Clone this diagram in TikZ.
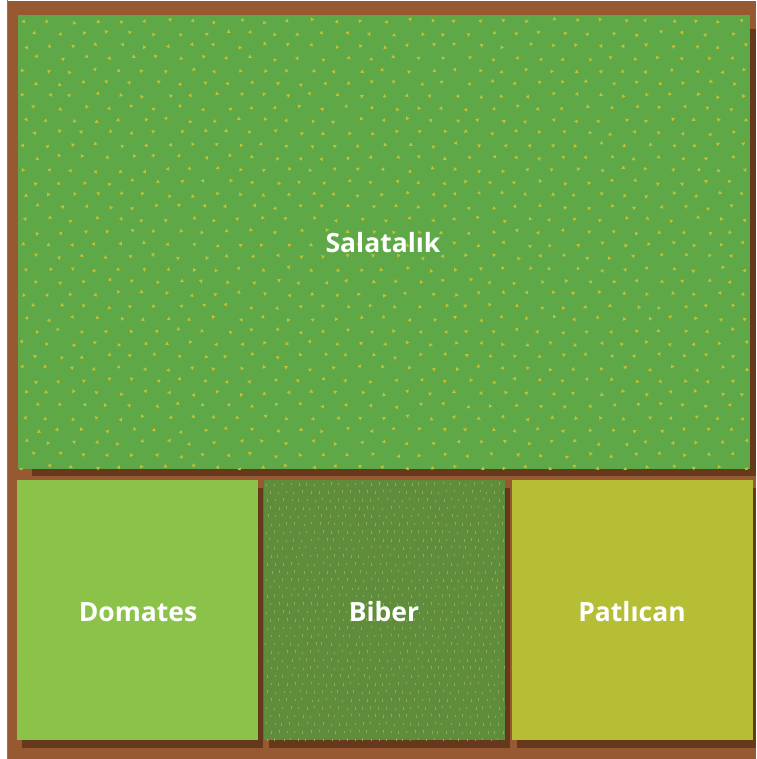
\documentclass[tikz,border=0pt]{standalone}
\usepackage{fontspec}
\newfontfamily\labfont{Open Sans}
\definecolor{brownc}{RGB}{150,89,50}
\definecolor{darkb}{RGB}{103,57,28}
\definecolor{topg}{RGB}{94,168,72}
\definecolor{domg}{RGB}{139,195,74}
\definecolor{bibg}{RGB}{96,141,60}
\definecolor{patg}{RGB}{181,190,52}
\definecolor{speck}{RGB}{196,192,52}
\definecolor{bibdot}{RGB}{138,172,84}
\definecolor{domdot}{RGB}{155,196,70}
\definecolor{edgeteal}{RGB}{40,160,150}
\tikzset{
  lab/.style={text=white, font=\labfont\bfseries\fontsize{26.5}{30}\selectfont, inner sep=0pt},
  shadowc/.style={fill=darkb},
}
\begin{document}
\begin{tikzpicture}[x=1pt,y=-1pt]
\useasboundingbox (0,0) rectangle (756,759);
\fill[white] (0,0) rectangle (756,759);
\draw[edgeteal, line width=1pt] (7.5,0) -- (7.5,759);
\fill[brownc] (8,1) rectangle (756,759);
% top bed
\fill[shadowc] (32,29) rectangle (756,476);
\fill[topg] (18,15) rectangle (750,469);
\pgfmathsetseed{7}
\begin{scope}
\clip (18,15) rectangle (750,469);
\foreach \j in {0,...,36} {
  \foreach \i in {0,...,31} {
    \pgfmathsetmacro\xx{24+\i*24+mod(\j,2)*12+rand*3}
    \pgfmathsetmacro\yy{21+\j*12.4+rand*2}
    \pgfmathsetmacro\rr{rnd*360}
    \fill[speck, shift={(\xx,\yy)}, rotate=\rr] (-1.6,-1.6) -- (2.2,-0.5) -- (-0.5,2.2) -- cycle;
  }
}
\end{scope}
% bottom shadows
\fill[shadowc] (22,488) rectangle (263,748);
\fill[shadowc] (269,488) rectangle (510,748);
\fill[shadowc] (517,488) rectangle (756,748);
% Domates
\fill[domg] (17,480) rectangle (258,740);
\begin{scope}
\clip (17,480) rectangle (258,740);
\foreach \j in {0,...,26} {
  \foreach \i in {0,...,24} {
    \pgfmathsetmacro\xx{20+\i*10+mod(\j,2)*5+rand*1.5}
    \pgfmathsetmacro\yy{484+\j*10+rand*1.5}
    \fill[domdot] (\xx,\yy) circle (0.8);
  }
}
\end{scope}
% Biber
\fill[bibg] (264,480) rectangle (505,740);
\begin{scope}
\clip (264,480) rectangle (505,740);
\foreach \j in {0,...,33} {
  \foreach \i in {0,...,30} {
    \pgfmathsetmacro\xx{267+\i*8+mod(\j,2)*4+rand*1.2}
    \pgfmathsetmacro\yy{484+\j*8+rand*1.2}
    \fill[bibdot] (\xx-0.5,\yy-1.3) rectangle (\xx+0.5,\yy+1.3);
  }
}
\end{scope}
% Patlican
\fill[patg] (512,480) rectangle (753,740);
% labels
\node[lab] (sal) at (383,243) {Salatalık};
\node[lab] (dom) at (138,612) {Domates};
\node[lab] (bib) at (384,612) {Biber};
\node[lab] (pat) at (632,612) {Patlıcan};
\end{tikzpicture}
\end{document}
